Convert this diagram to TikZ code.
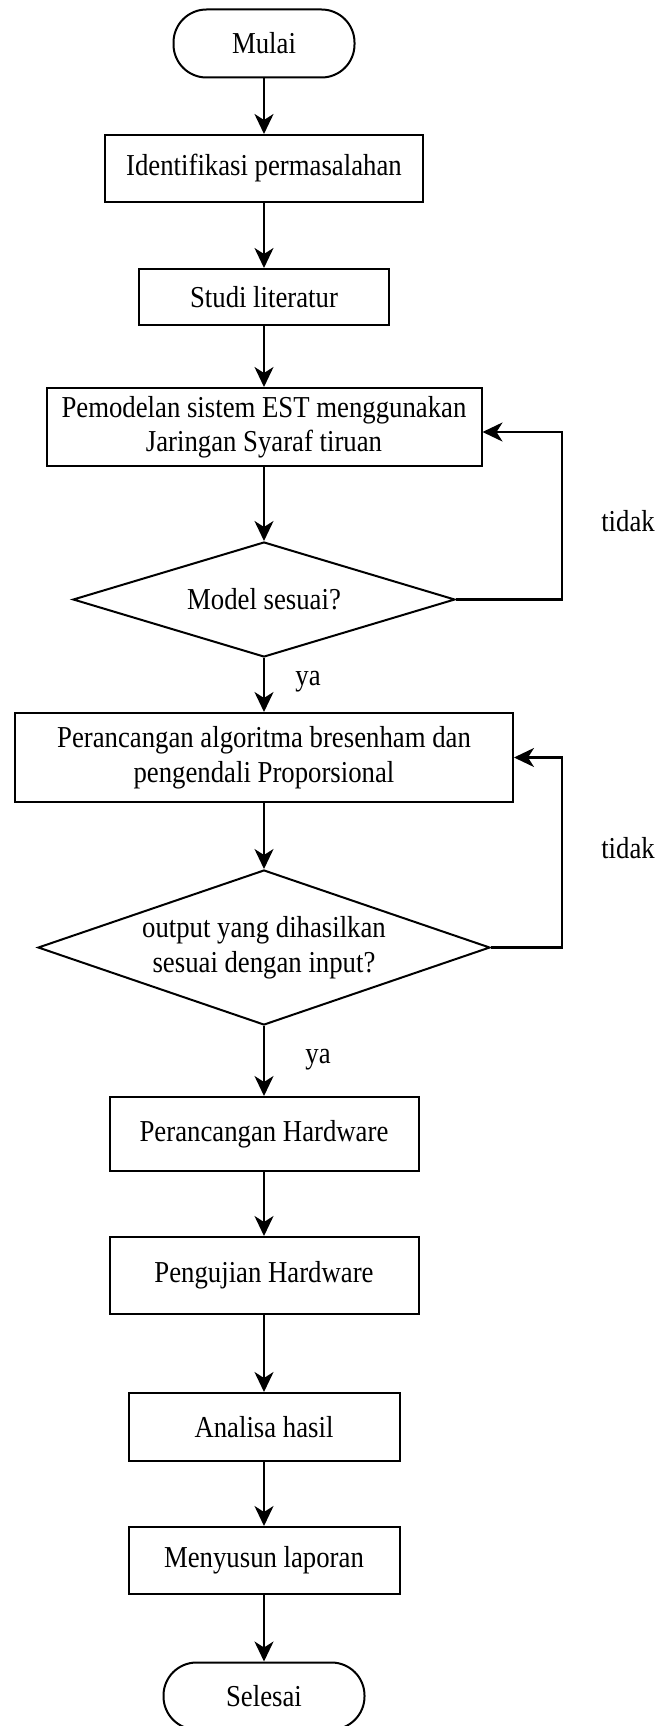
\documentclass[tikz,border=0pt]{standalone}
\usepackage{fontspec}
\setmainfont{Liberation Serif}[FakeStretch=0.88]
\usetikzlibrary{shapes.geometric,arrows.meta}
\begin{document}
\begin{tikzpicture}[x=1pt,y=-1pt,
  every node/.style={font=\fontsize{30.4pt}{34.5pt}\selectfont, inner sep=0pt},
  proc/.style={draw, line width=2pt, rectangle, align=center},
  term/.style={draw, line width=2pt, rectangle, rounded corners=33pt},
  decision/.style={draw, line width=2pt, diamond, align=center},
  flow/.style={draw, line width=2.2pt, -{Stealth[length=20pt,width=19pt,inset=6pt]}},
  lbl/.style={}]
\useasboundingbox (0,0) rectangle (659,1726);

% main column
\node[term, minimum width=181pt, minimum height=68pt] (start) at (264,43.5) {Mulai};
\node[proc, minimum width=318pt, minimum height=67pt] (id) at (264,168.5) {Identifikasi permasalahan};
\node[proc, minimum width=250pt, minimum height=56pt] (studi) at (264,297) {Studi literatur};
\node[proc, minimum width=435pt, minimum height=78pt] (model) at (264,427) {Pemodelan sistem EST menggunakan\\Jaringan Syaraf tiruan};
\node[decision, minimum width=382pt, minimum height=115pt, shape aspect=3.3] (d1) at (264,599.5) {Model sesuai?};
\node[proc, minimum width=498pt, minimum height=89pt] (per) at (264,757.5) {Perancangan algoritma bresenham dan\\pengendali Proporsional};
\node[decision, minimum width=452pt, minimum height=155pt, shape aspect=2.9] (d2) at (264,947.5) {output yang dihasilkan\\sesuai dengan input?};
\node[proc, minimum width=309pt, minimum height=74pt] (hw) at (264,1134) {Perancangan Hardware};
\node[proc, minimum width=309pt, minimum height=77pt] (uji) at (264,1275.5) {Pengujian Hardware};
\node[proc, minimum width=271pt, minimum height=68pt] (analisa) at (264,1427) {Analisa hasil};
\node[proc, minimum width=271pt, minimum height=67pt] (susun) at (264,1560.5) {Menyusun laporan};
\node[term, minimum width=201pt, minimum height=67pt] (end) at (264,1696) {Selesai};

% straight flow
\draw[flow] (start) -- (id);
\draw[flow] (id) -- (studi);
\draw[flow] (studi) -- (model);
\draw[flow] (model) -- (d1);
\draw[flow] (d1) -- (per);
\draw[flow] (per) -- (d2);
\draw[flow] (d2) -- (hw);
\draw[flow] (hw) -- (uji);
\draw[flow] (uji) -- (analisa);
\draw[flow] (analisa) -- (susun);
\draw[flow] (susun) -- (end);

% decision labels
\node[lbl] (ya1) at (308,682) {ya};
\node[lbl] (ya2) at (318,1060) {ya};

% feedback loops
\coordinate (r1) at (562,432);
\draw[flow] (d1.east) -| (r1) -- (r1 -| model.east);
\node[lbl] (tidak1) at (628,521) {tidak};

\coordinate (r2) at (562,757.5);
\draw[flow] (d2.east) -| (r2) -- (r2 -| per.east);
\node[lbl] (tidak2) at (628,848) {tidak};
\end{tikzpicture}
\end{document}
